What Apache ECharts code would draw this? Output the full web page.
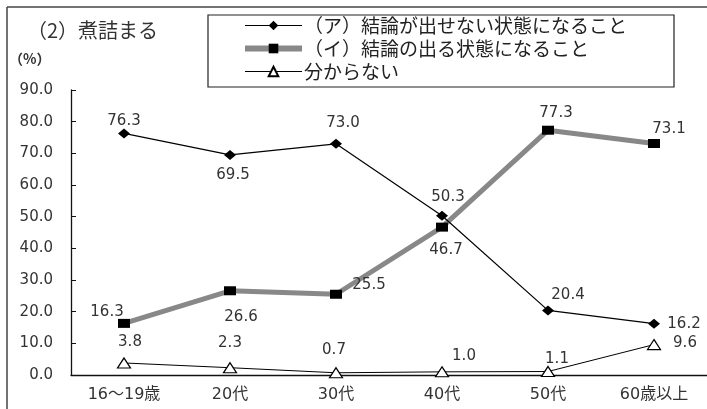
<!DOCTYPE html>
<html>
<head>
<meta charset="utf-8">
<script src="https://cdn.jsdelivr.net/npm/echarts@6/dist/echarts.min.js"></script>
<style>
html, body { margin: 0; padding: 0; background: #fff; }
#chart { width: 707px; height: 409px; }
</style>
</head>
<body>
<div id="chart"></div>
<script>
// カテゴリと系列データ
var categories = ['16～19歳', '20代', '30代', '40代', '50代', '60歳以上'];
var seriesNames = ['（ア）結論が出せない状態になること', '（イ）結論の出る状態になること', '分からない'];
var valuesA = [76.3, 69.5, 73.0, 50.3, 20.4, 16.2];
var valuesB = [16.3, 26.6, 25.5, 46.7, 77.3, 73.1];
var valuesC = [3.8, 2.3, 0.7, 1.0, 1.1, 9.6];

// ラベル位置（点からのずれ）
var offA = [[0, -12], [3, 20], [7, -21], [6, -19], [20, -15], [30, 0]];
var offB = [[-17, -11], [11, 26], [33, -9], [4, 23], [8, -17], [15, -14]];
var offC = [[6, -21], [0, -25], [-2, -23], [22, -16], [9, -12], [31, -1]];

var NUM = 'DejaVu Sans, Noto Sans CJK JP, sans-serif';
var JP = 'Noto Sans CJK JP, sans-serif';

function withLabels(vals, offs){
	var out = [];
	for(var i = 0; i < vals.length; i++){
		out.push({
			value: vals[i],
			label: { offset: offs[i] }
		});
	}
	return out;
}

var labelBase = {
	show: true,
	position: 'inside',
	color: '#333',
	fontSize: 15,
	fontFamily: NUM,
	formatter: function(p){ return p.value.toFixed(1); }
};

var chart = echarts.init(document.getElementById('chart'));
var option = {
	animation: false,
	textStyle: { fontFamily: NUM },
	graphic: [
		{ type: 'line', shape: { x1: 7, y1: 7, x2: 707, y2: 7 }, style: { stroke: '#444', lineWidth: 1.5 } },
		{ type: 'line', shape: { x1: 7, y1: 7, x2: 7, y2: 409 }, style: { stroke: '#444', lineWidth: 1.5 } },
		{ type: 'rect', shape: { x: 208, y: 15, width: 466, height: 72 }, style: { fill: 'none', stroke: '#222', lineWidth: 1.2 } },
		{ type: 'text', left: 27, top: 20, style: { text: '（2）煮詰まる', font: '20px ' + JP, fill: '#333' } },
		{ type: 'text', left: 9, top: 52, style: { text: '（%）', font: 'bold 14px ' + JP, fill: '#333' } }
	],
	legend: {
		orient: 'vertical',
		left: 242,
		top: 16,
		padding: 0,
		itemWidth: 57,
		itemHeight: 12,
		itemGap: 4,
		textStyle: { fontSize: 19, color: '#222', fontFamily: JP, padding: [0, 0, 0, -3] },
		data: [
			{ name: seriesNames[0], lineStyle: { width: 1.2, color: '#000' } },
			{ name: seriesNames[1], lineStyle: { width: 6, color: '#888' } },
			{ name: seriesNames[2], lineStyle: { width: 1.2, color: '#000' } }
		]
	},
	grid: { left: 71, right: -7, top: 90, bottom: 34 },
	xAxis: {
		type: 'category',
		data: categories,
		axisLine: { lineStyle: { color: '#111', width: 1.3 } },
		axisTick: { inside: true, length: 5, lineStyle: { color: '#111' } },
		axisLabel: { color: '#333', fontSize: 16, margin: 12, fontFamily: NUM }
	},
	yAxis: {
		type: 'value',
		min: 0,
		max: 90,
		interval: 10,
		axisLine: { show: true, lineStyle: { color: '#111', width: 1.3 } },
		axisTick: { show: true, inside: true, length: 5, lineStyle: { color: '#111' } },
		splitLine: { show: false },
		axisLabel: { color: '#333', fontSize: 15, margin: 18, fontFamily: NUM,
			formatter: function(v){ return v.toFixed(1); } }
	},
	series: [
		{
			name: seriesNames[0],
			type: 'line',
			data: withLabels(valuesA, offA),
			symbol: 'diamond',
			symbolSize: [12, 10],
			itemStyle: { color: '#000' },
			lineStyle: { color: '#000', width: 1.2 },
			label: labelBase,
			z: 4
		},
		{
			name: seriesNames[1],
			type: 'line',
			data: withLabels(valuesB, offB),
			symbol: 'rect',
			symbolSize: [12, 9],
			itemStyle: { color: '#000' },
			lineStyle: { color: '#888', width: 5 },
			label: labelBase,
			z: 3
		},
		{
			name: seriesNames[2],
			type: 'line',
			data: withLabels(valuesC, offC),
			symbol: 'triangle',
			symbolSize: [13, 10],
			itemStyle: { color: '#fff', borderColor: '#000', borderWidth: 1.2 },
			lineStyle: { color: '#000', width: 1 },
			label: labelBase,
			z: 2
		}
	]
};
chart.setOption(option);
</script>
</body>
</html>
